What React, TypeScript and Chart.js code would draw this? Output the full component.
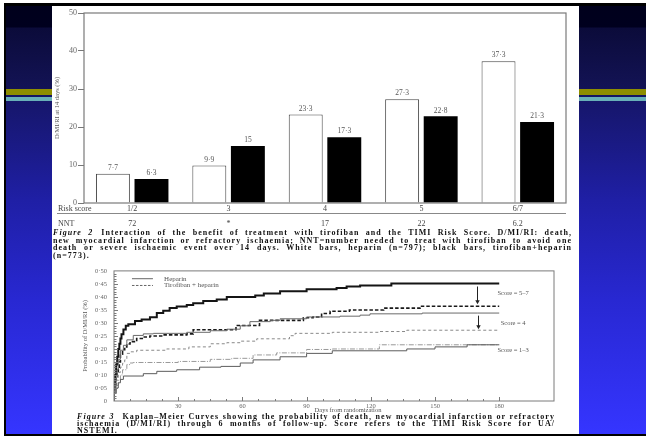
import React, { useEffect, useRef } from "react";
import { Chart, registerables } from "chart.js";

Chart.register(...registerables);

// ---------- Figure 2 data ----------
const riskScores = ["1/2", "3", "4", "5", "6/7"];
const heparinRates = [7.7, 9.9, 23.3, 27.3, 37.3];
const tirofibanRates = [6.3, 15, 17.3, 22.8, 21.3];
const nntValues = ["72", "*", "17", "22", "6.2"];
const barTicks = [0, 10, 20, 30, 40, 50];

// ---------- Figure 3 data: [day, probability] ----------
const kmDayTicks = [30, 60, 90, 120, 150, 180];
const kmProbTicks = [0, 0.05, 0.1, 0.15, 0.2, 0.25, 0.3, 0.35, 0.4, 0.45, 0.5];

const kmScore57Heparin = [
  [0, 0], [0.5, 0.05], [1, 0.1], [1.5, 0.14], [2, 0.17], [2.5, 0.2], [3, 0.22], [3.5, 0.24],
  [4.4, 0.257], [5.5, 0.275], [6.7, 0.289], [9.8, 0.295], [12.9, 0.307], [16.8, 0.313],
  [20, 0.322], [23, 0.338], [26, 0.347], [29.3, 0.357], [34, 0.363], [37, 0.369],
  [41.7, 0.376], [48, 0.384], [52.7, 0.39], [66, 0.4], [70, 0.405], [77.6, 0.413],
  [90, 0.422], [104, 0.429], [108.7, 0.434], [115, 0.44], [129.6, 0.444], [146.9, 0.452],
  [180, 0.452],
];
const kmScore57Tirofiban = [
  [0, 0], [0.5, 0.03], [1, 0.06], [1.5, 0.09], [2, 0.11], [2.5, 0.13], [3, 0.15], [4, 0.18],
  [5, 0.197], [6, 0.208], [7.5, 0.219], [10.6, 0.228], [13.7, 0.24], [16.8, 0.246],
  [23, 0.25], [34, 0.254], [37, 0.258], [57, 0.274], [68, 0.29], [88.5, 0.31], [93, 0.32],
  [97, 0.323], [101, 0.336], [110, 0.345], [126, 0.35], [143, 0.357], [158.6, 0.364],
  [180, 0.364],
];
const kmScore4Heparin = [
  [0, 0], [0.5, 0.03], [1, 0.06], [1.5, 0.09], [2, 0.12], [3, 0.16], [4.4, 0.195], [6, 0.214],
  [9, 0.235], [13.7, 0.252], [18.4, 0.258], [34, 0.26], [45, 0.264], [52.7, 0.27], [59, 0.276],
  [63.5, 0.289], [73, 0.305], [77.6, 0.31], [90, 0.316], [105.6, 0.323], [115, 0.326],
  [119.6, 0.33], [144, 0.335], [170, 0.338], [180, 0.338],
];
const kmScore4Tirofiban = [
  [0, 0], [1, 0.04], [2, 0.08], [3, 0.11], [4, 0.13], [5, 0.145], [6, 0.158], [7.5, 0.183],
  [10.6, 0.189], [24.6, 0.195], [35, 0.2], [45, 0.208], [52.7, 0.22], [59, 0.224],
  [66.7, 0.23], [82, 0.239], [84.6, 0.251], [102, 0.26], [124, 0.264], [136.8, 0.267],
  [150.8, 0.272], [180, 0.272],
];
const kmScore13Upper = [
  [0, 0], [1, 0.03], [2, 0.06], [3, 0.08], [4, 0.1], [6, 0.12], [7.5, 0.14], [9, 0.146],
  [30, 0.148], [45, 0.152], [55, 0.16], [65, 0.164], [76, 0.177], [90, 0.185], [102, 0.198],
  [124, 0.2], [141, 0.216], [180, 0.216],
];
const kmScore13Lower = [
  [0, 0], [1, 0.03], [2, 0.05], [3, 0.07], [4.4, 0.083], [13.7, 0.096], [20, 0.105],
  [29.3, 0.114], [40, 0.12], [50, 0.13], [59, 0.133], [65, 0.146], [77.6, 0.158], [90, 0.17],
  [102, 0.183], [136.8, 0.193], [150, 0.2], [165, 0.208], [180, 0.216],
];

const scoreLabels = ["Score = 5–7", "Score = 4", "Score = 1–3"];
const legendLabels = ["Heparin", "Tirofiban + heparin"];

const fig2Lines = [
  "Interaction of the benefit of treatment with tirofiban and the TIMI Risk Score. D/MI/RI: death,",
  "new myocardial infarction or refractory ischaemia; NNT=number needed to treat with tirofiban to avoid one",
  "death or severe ischaemic event over 14 days. White bars, heparin (n=797); black bars, tirofiban+heparin",
  "(n=773).",
];
const fig3Lines = [
  "Kaplan–Meier Curves showing the probability of death, new myocardial infarction or refractory",
  "ischaemia (D/MI/RI) through 6 months of follow-up. Score refers to the TIMI Risk Score for UA/",
  "NSTEMI.",
];

const SERIF = '"Liberation Serif", "DejaVu Serif", serif';
const fmt = (v: number) => String(v).replace(".", "·");
const toXY = (arr: number[][]) => arr.map(([x, y]) => ({ x, y }));

const barDecor = {
  id: "barDecor",
  afterDraw(chart: any) {
    const { ctx, chartArea: a, scales } = chart;
    const x = scales.x;
    ctx.save();
    ctx.strokeStyle = "#7a7a7a";
    ctx.lineWidth = 1.2;
    ctx.strokeRect(a.left, a.top, a.right - a.left, a.bottom - a.top);

    ctx.fillStyle = "#555";
    ctx.font = `7.5px ${SERIF}`;
    ctx.textAlign = "center";
    ctx.textBaseline = "bottom";
    chart.data.datasets.forEach((ds: any, di: number) => {
      const meta = chart.getDatasetMeta(di);
      meta.data.forEach((el: any, i: number) => {
        ctx.fillText(fmt(ds.data[i]), el.x, el.y - 2);
      });
    });

    ctx.fillStyle = "#444";
    ctx.font = `8px ${SERIF}`;
    ctx.textAlign = "left";
    ctx.textBaseline = "middle";
    ctx.fillText("Risk score", 6, a.bottom + 5.5);
    ctx.beginPath();
    ctx.moveTo(5, a.bottom + 10.5);
    ctx.lineTo(a.right, a.bottom + 10.5);
    ctx.strokeStyle = "#888";
    ctx.lineWidth = 1;
    ctx.stroke();
    ctx.fillText("NNT", 6, a.bottom + 20.5);
    ctx.textAlign = "center";
    nntValues.forEach((t, i) => ctx.fillText(t, x.getPixelForValue(i), a.bottom + 20.5));

    ctx.translate(a.left - 27, (a.top + a.bottom) / 2);
    ctx.rotate(-Math.PI / 2);
    ctx.font = `6.5px ${SERIF}`;
    ctx.fillStyle = "#555";
    ctx.textAlign = "center";
    ctx.textBaseline = "middle";
    ctx.fillText("D/MI/RI at 14 days (%)", 0, 0);
    ctx.restore();
  },
};

const kmDecor = {
  id: "kmDecor",
  afterDraw(chart: any) {
    const { ctx, chartArea: a, scales } = chart;
    const x = scales.x;
    const y = scales.y;
    ctx.save();
    ctx.strokeStyle = "#7a7a7a";
    ctx.lineWidth = 1;
    ctx.strokeRect(a.left, a.top, a.right - a.left, a.bottom - a.top);
    ctx.beginPath();
    for (let d = 7.5; d <= 180; d += 7.5) {
      const px = Math.round(x.getPixelForValue(d)) + 0.5;
      const major = d % 30 === 0;
      ctx.moveTo(px, a.bottom);
      ctx.lineTo(px, a.bottom - (major ? 4 : 2));
    }
    for (let i = 1; i < 50; i++) {
      const py = Math.round(y.getPixelForValue(i / 100)) + 0.5;
      const major = i % 5 === 0;
      ctx.moveTo(a.left, py);
      ctx.lineTo(a.left + (major ? 4 : 2.5), py);
    }
    ctx.stroke();

    // legend
    ctx.font = `7px ${SERIF}`;
    ctx.fillStyle = "#555";
    ctx.textAlign = "left";
    ctx.textBaseline = "middle";
    const l0 = x.getPixelForValue(8.4);
    const l1 = x.getPixelForValue(18.2);
    const tx = x.getPixelForValue(23.4);
    const ly1 = y.getPixelForValue(0.47);
    const ly2 = y.getPixelForValue(0.444);
    ctx.strokeStyle = "#555";
    ctx.lineWidth = 0.9;
    ctx.beginPath();
    ctx.moveTo(l0, ly1);
    ctx.lineTo(l1, ly1);
    ctx.stroke();
    ctx.setLineDash([2.5, 1.5]);
    ctx.beginPath();
    ctx.moveTo(l0, ly2);
    ctx.lineTo(l1, ly2);
    ctx.stroke();
    ctx.setLineDash([]);
    ctx.fillText(legendLabels[0], tx, ly1);
    ctx.fillText(legendLabels[1], tx, ly2);

    // score annotations
    ctx.textAlign = "center";
    ctx.font = `6.5px ${SERIF}`;
    const sx = x.getPixelForValue(186.5);
    ctx.fillText(scoreLabels[0], sx, y.getPixelForValue(0.414));
    ctx.fillText(scoreLabels[1], sx, y.getPixelForValue(0.2985));
    ctx.fillText(scoreLabels[2], sx, y.getPixelForValue(0.194));

    // arrows
    const arrow = (d: number, v0: number, v1: number) => {
      const px = Math.round(x.getPixelForValue(d)) + 0.5;
      const p0 = y.getPixelForValue(v0);
      const p1 = y.getPixelForValue(v1);
      ctx.strokeStyle = "#222";
      ctx.lineWidth = 1;
      ctx.beginPath();
      ctx.moveTo(px, p0);
      ctx.lineTo(px, p1 - 3);
      ctx.stroke();
      ctx.fillStyle = "#222";
      ctx.beginPath();
      ctx.moveTo(px - 2.2, p1 - 4);
      ctx.lineTo(px + 2.2, p1 - 4);
      ctx.lineTo(px, p1);
      ctx.closePath();
      ctx.fill();
    };
    arrow(169.6, 0.44, 0.372);
    arrow(170, 0.328, 0.276);

    // axis titles
    ctx.fillStyle = "#555";
    ctx.font = `6.5px ${SERIF}`;
    ctx.textAlign = "center";
    ctx.textBaseline = "middle";
    ctx.fillText("Days from randomization", 296, a.bottom + 9);
    ctx.translate(a.left - 29, (a.top + a.bottom) / 2);
    ctx.rotate(-Math.PI / 2);
    ctx.fillText("Probability of D/MI/RI (%)", 0, 0);
    ctx.restore();
  },
};

function BarFigure() {
  const ref = useRef<HTMLCanvasElement>(null);
  useEffect(() => {
    const chart = new Chart(ref.current as HTMLCanvasElement, {
      type: "bar",
      data: {
        labels: riskScores,
        datasets: [
          {
            label: "Heparin",
            data: heparinRates,
            backgroundColor: "#ffffff",
            borderColor: "#444",
            borderWidth: 1,
            categoryPercentage: 0.8,
            barPercentage: 0.88,
          },
          {
            label: "Tirofiban + heparin",
            data: tirofibanRates,
            backgroundColor: "#000000",
            borderColor: "#000000",
            borderWidth: 0,
            categoryPercentage: 0.8,
            barPercentage: 0.88,
          },
        ],
      },
      options: {
        animation: false,
        responsive: false,
        devicePixelRatio: 1,
        layout: { padding: { left: 0, right: 13, top: 7, bottom: 0 } },
        plugins: { legend: { display: false }, tooltip: { enabled: false } },
        scales: {
          x: {
            grid: { display: false, drawTicks: false },
            border: { display: false },
            ticks: { font: { family: SERIF, size: 8 }, color: "#444", padding: 1, maxRotation: 0 },
            afterFit: (s: any) => {
              s.height = 29;
            },
          },
          y: {
            min: 0,
            max: 50,
            afterBuildTicks: (s: any) => {
              s.ticks = barTicks.map((v) => ({ value: v }));
            },
            grid: { display: true, drawOnChartArea: false, drawTicks: true, tickLength: 6, color: "#777" },
            border: { display: false },
            ticks: { font: { family: SERIF, size: 8 }, color: "#666", padding: 1 },
            afterFit: (s: any) => {
              s.width = 32;
            },
          },
        },
      },
      plugins: [barDecor],
    } as any);
    return () => chart.destroy();
  }, []);
  return (
    <canvas
      ref={ref}
      width={527}
      height={226}
      style={{ position: "absolute", left: 52, top: 6, width: 527, height: 226 }}
    />
  );
}

function KmFigure() {
  const ref = useRef<HTMLCanvasElement>(null);
  useEffect(() => {
    const base = { pointRadius: 0, stepped: "after", fill: false };
    const chart = new Chart(ref.current as HTMLCanvasElement, {
      type: "line",
      data: {
        datasets: [
          { ...base, label: "Score 1–3 heparin", data: toXY(kmScore13Lower), borderColor: "#5c5c5c", borderWidth: 1 },
          { ...base, label: "Score 1–3 tirofiban + heparin", data: toXY(kmScore13Upper), borderColor: "#999", borderWidth: 1, borderDash: [5, 1.5, 1, 1.5] },
          { ...base, label: "Score 4 tirofiban + heparin", data: toXY(kmScore4Tirofiban), borderColor: "#7c7c7c", borderWidth: 0.9, borderDash: [3, 2.5] },
          { ...base, label: "Score 4 heparin", data: toXY(kmScore4Heparin), borderColor: "#6a6a6a", borderWidth: 1 },
          { ...base, label: "Score 5–7 tirofiban + heparin", data: toXY(kmScore57Tirofiban), borderColor: "#1a1a1a", borderWidth: 1.6, borderDash: [3.5, 2] },
          { ...base, label: "Score 5–7 heparin", data: toXY(kmScore57Heparin), borderColor: "#151515", borderWidth: 2 },
        ],
      },
      options: {
        animation: false,
        responsive: false,
        devicePixelRatio: 1,
        layout: { padding: { left: 0, right: 25, top: 7, bottom: 0 } },
        plugins: { legend: { display: false }, tooltip: { enabled: false } },
        scales: {
          x: {
            type: "linear",
            min: 0,
            max: 205.6,
            afterBuildTicks: (s: any) => {
              s.ticks = kmDayTicks.map((v) => ({ value: v }));
            },
            grid: { display: false, drawTicks: false },
            border: { display: false },
            ticks: { font: { family: SERIF, size: 6.5 }, color: "#666", padding: 1, maxRotation: 0, autoSkip: false },
            afterFit: (s: any) => {
              s.height = 15;
            },
          },
          y: {
            min: 0,
            max: 0.5,
            afterBuildTicks: (s: any) => {
              s.ticks = kmProbTicks.map((v) => ({ value: v }));
            },
            grid: { display: false, drawTicks: false },
            border: { display: false },
            ticks: {
              font: { family: SERIF, size: 6.5 },
              color: "#666",
              padding: 7,
              callback: (v: any) => (Number(v) === 0 ? "0" : Number(v).toFixed(2).replace(".", "·")),
            },
            afterFit: (s: any) => {
              s.width = 62;
            },
          },
        },
      },
      plugins: [kmDecor],
    } as any);
    return () => chart.destroy();
  }, []);
  return (
    <canvas
      ref={ref}
      width={527}
      height={156}
      style={{ position: "absolute", left: 52, top: 260, width: 527, height: 156 }}
    />
  );
}

function Caption({ label, lines, left, top, width, lh }: any) {
  return (
    <div
      style={{
        position: "absolute",
        left,
        top,
        width,
        fontFamily: SERIF,
        fontWeight: "bold",
        fontSize: 8,
        letterSpacing: 1.05,
        color: "#111",
      }}
    >
      {lines.map((t: string, i: number) => {
        const last = i === lines.length - 1;
        return (
          <div
            key={i}
            style={{
              position: "absolute",
              top: i * lh,
              left: 0,
              right: 0,
              height: lh,
              lineHeight: `${lh}px`,
              whiteSpace: "nowrap",
              textAlign: last ? "left" : "justify",
              textAlignLast: (last ? "left" : "justify") as any,
            }}
          >
            {i === 0 ? <i style={{ marginRight: 8 }}>{label}</i> : null}
            {t}
          </div>
        );
      })}
    </div>
  );
}

export default function App() {
  return (
    <div
      style={{
        position: "fixed",
        left: 0,
        top: 0,
        width: 651,
        height: 439,
        background: "#ffffff",
        overflow: "hidden",
      }}
    >
      <div
        style={{
          position: "absolute",
          left: 4,
          top: 3,
          width: 642,
          height: 433,
          background:
            "linear-gradient(to bottom, #00001c 0px, #00001e 24px, #0b0b3a 25px, #131355 85px, #16166a 97px, #1f1fa5 197px, #2828d2 297px, #3535ff 430px)",
        }}
      />
      <div style={{ position: "absolute", left: 4, top: 89, width: 642, height: 6, background: "#8e8e00" }} />
      <div style={{ position: "absolute", left: 4, top: 97, width: 642, height: 3.5, background: "#68b0b8" }} />
      <div style={{ position: "absolute", left: 4, top: 3, width: 642, height: 3, background: "#000" }} />
      <div style={{ position: "absolute", left: 4, top: 3, width: 2, height: 433, background: "#000" }} />
      <div style={{ position: "absolute", left: 52, top: 6, width: 527, height: 428, background: "#fff" }} />
      <div style={{ position: "absolute", left: 4, top: 434, width: 642, height: 2, background: "#000" }} />
      <BarFigure />
      <Caption label="Figure 2" lines={fig2Lines} left={53} top={229.25} width={519} lh={7.5} />
      <KmFigure />
      <Caption label="Figure 3" lines={fig3Lines} left={77} top={412.5} width={478} lh={7} />
    </div>
  );
}
